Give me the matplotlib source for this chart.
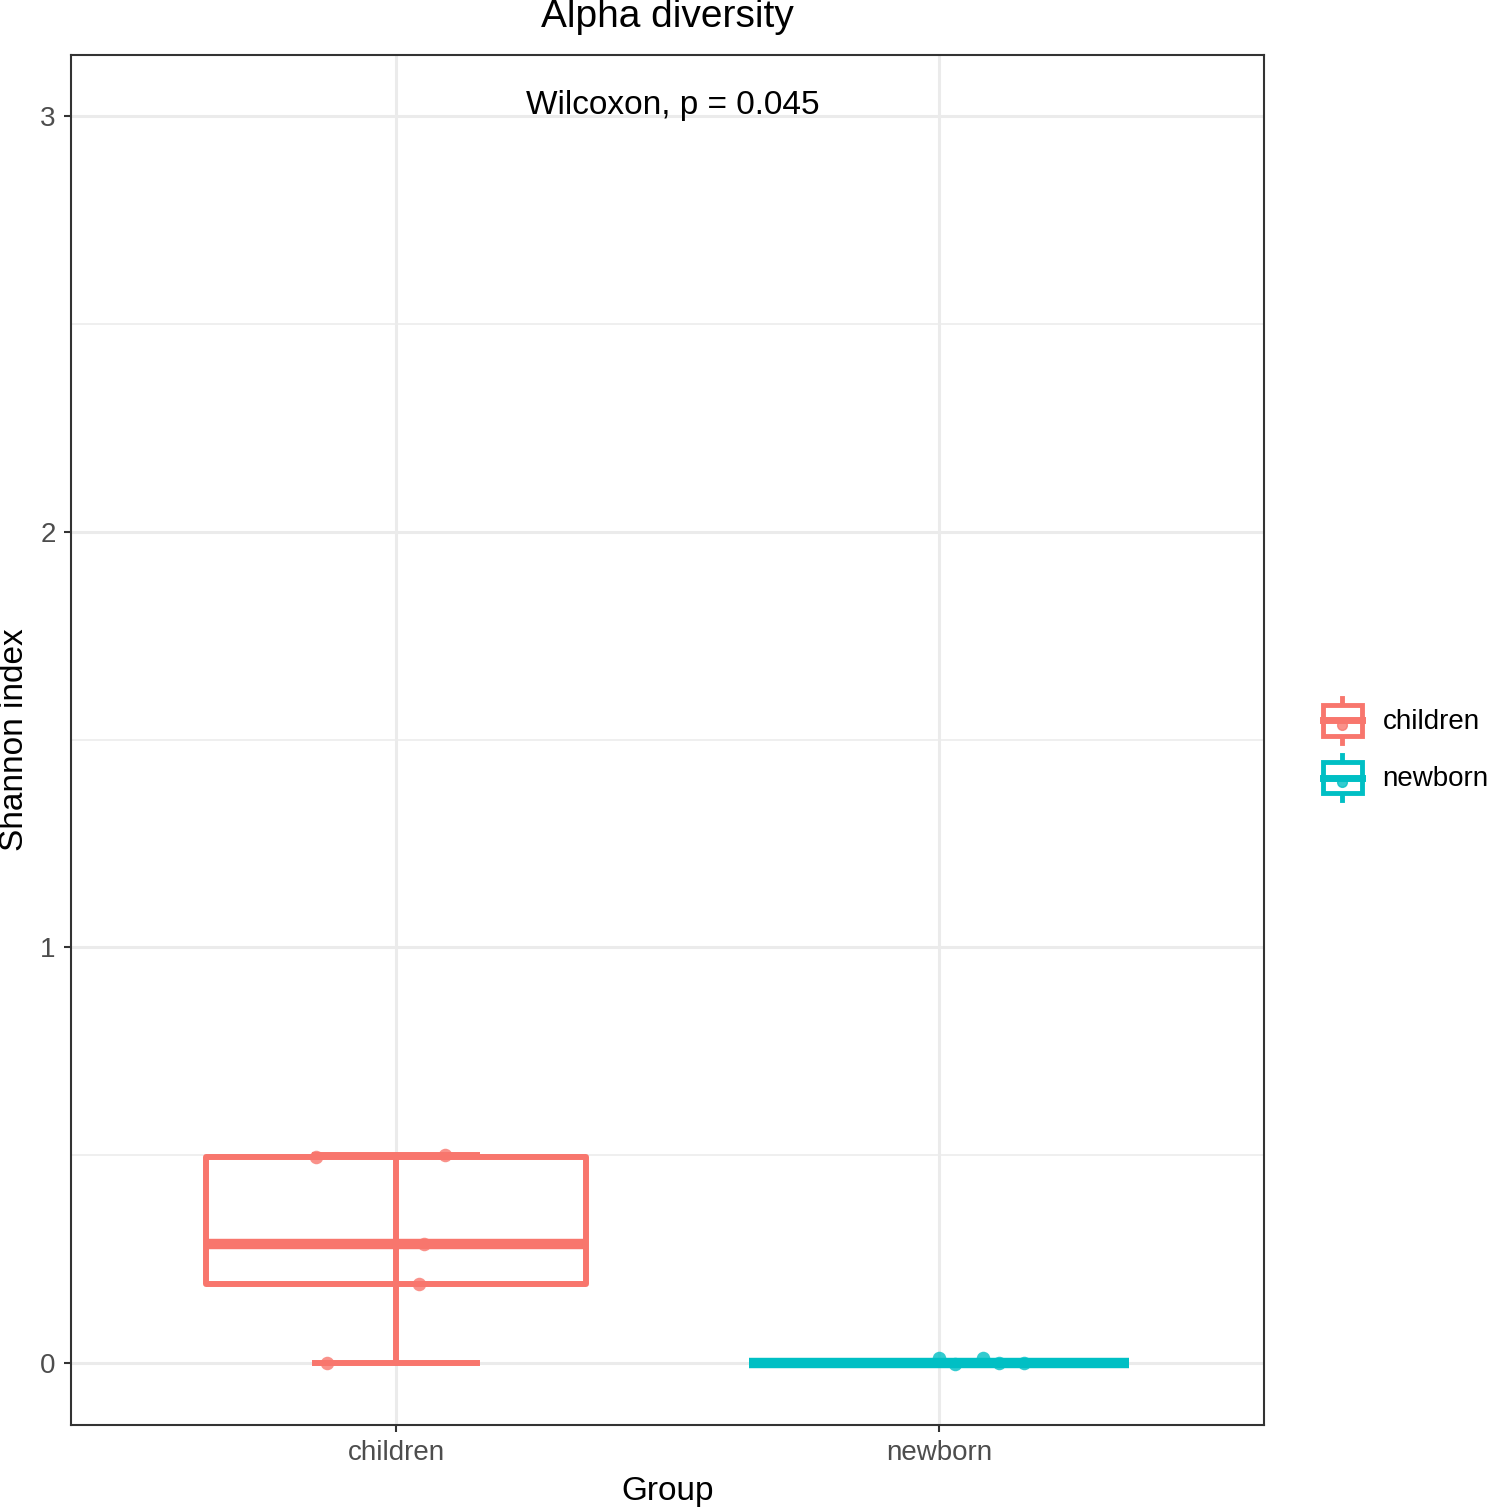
import numpy as np
import matplotlib
matplotlib.use("Agg")
import matplotlib.pyplot as plt
from matplotlib.legend_handler import HandlerBase
from matplotlib.patches import Rectangle, Patch
from matplotlib.lines import Line2D

plt.rcParams['font.family'] = ['Liberation Sans', 'DejaVu Sans']

# data
groups = ['children', 'newborn']
colors = ['#F8766D', '#00BFC4']
shannon = {
    'children': [0.4956, 0.50, 0.286, 0.19, 0.0],
    'newborn': [0.0, 0.0, 0.0, 0.0, 0.0],
}
# jitter of the points (x offset, y offset), as seen on the plot
jitter_x = {
    'children': [-0.147, 0.090, 0.052, 0.042, -0.127],
    'newborn': [0.0, 0.029, 0.081, 0.110, 0.157],
}
jitter_y = {
    'children': [0.0, 0.0, 0.0, 0.0, 0.0],
    'newborn': [0.012, -0.002, 0.013, -0.001, 0.0],
}
p_label = 'Wilcoxon, p = 0.045'

W, H = 1489, 1507
fig = plt.figure(figsize=(W / 100, H / 100), dpi=100)
ax = fig.add_axes([71 / W, 1 - 1425 / H, (1264 - 71) / W, (1425 - 55) / H])

box_w = 0.7
cap_w = 0.3
for i, (g, c) in enumerate(zip(groups, colors)):
    x = i + 1
    v = np.array(shannon[g])
    q1, med, q3 = np.percentile(v, [25, 50, 75])
    iqr = q3 - q1
    lo = v[v >= q1 - 1.5 * iqr].min()
    hi = v[v <= q3 + 1.5 * iqr].max()
    # errorbar whiskers
    ax.plot([x, x], [lo, hi], color=c, lw=4.3, zorder=3, solid_capstyle='butt')
    ax.plot([x - cap_w / 2, x + cap_w / 2], [lo, lo], color=c, lw=4.3, zorder=3)
    ax.plot([x - cap_w / 2, x + cap_w / 2], [hi, hi], color=c, lw=4.3, zorder=3)
    # box
    ax.add_patch(Rectangle((x - box_w / 2, q1), box_w, q3 - q1, fill=False,
                           edgecolor=c, lw=4.3, zorder=4, joinstyle='round'))
    ax.plot([x - box_w / 2, x + box_w / 2], [med, med], color=c, lw=7.5,
            zorder=4, solid_capstyle='butt')
    # points
    px = x + np.array(jitter_x[g])
    py = v + np.array(jitter_y[g])
    ax.scatter(px, py, s=95, color=c, alpha=0.8, lw=0, zorder=5)

ax.text(1.51, 3.026, p_label, ha='center', va='center', fontsize=24, color='black')

ax.set_xlim(0.4015, 2.5985)
ax.set_ylim(-0.149, 3.147)
ax.set_xticks([1, 2])
ax.set_xticklabels(groups)
ax.set_yticks([0, 1, 2, 3])
ax.set_yticks([0.5, 1.5, 2.5], minor=True)
ax.set_xticks([], minor=True)
ax.grid(True, which='major', color='#EBEBEB', lw=2.2, zorder=0)
ax.grid(True, which='minor', axis='y', color='#EBEBEB', lw=1.1, zorder=0)
ax.set_axisbelow(True)
ax.tick_params(which='major', length=5, width=1.5, color='#333333',
               labelsize=20, labelcolor='#4D4D4D', pad=6)
ax.tick_params(which='minor', length=0)
for s in ax.spines.values():
    s.set_color('#333333')
    s.set_linewidth(1.5)

ax.set_xlabel('Group', fontsize=24, labelpad=7)
ax.set_ylabel('Shannon index', fontsize=24, va='center')
ax.yaxis.set_label_coords(-0.0475, 0.5)
fig.text(667 / W, 1 - 17 / H, 'Alpha diversity', ha='center', va='center', fontsize=28)


class BoxKey(HandlerBase):
    def create_artists(self, legend, orig_handle, xdescent, ydescent,
                       width, height, fontsize, trans):
        c = orig_handle.get_facecolor()
        x0, y0 = -xdescent, -ydescent
        cx, cy = x0 + width / 2, y0 + height / 2
        bh = height * 0.68
        arts = [
            Line2D([cx, cx], [y0, y0 + height], color=c, lw=3.5),
            Rectangle((x0, cy - bh / 2), width, bh, facecolor='white',
                      edgecolor=c, lw=3.5),
            Line2D([x0, x0 + width], [cy, cy], color=c, lw=5),
            Line2D([cx], [cy - bh * 0.15], marker='o', markersize=7,
                   color=c, alpha=0.8, lw=0),
        ]
        for a in arts:
            a.set_transform(trans)
        return arts


handles = [Patch(facecolor=c) for c in colors]
fig.legend(handles, groups, loc='center left',
           bbox_to_anchor=(1309 / W, 1 - 749 / H), frameon=False,
           fontsize=20, handler_map={Patch: BoxKey()},
           handlelength=1.4, handleheight=2.1, handletextpad=0.75,
           labelspacing=0.45, borderpad=0)

fig.savefig('out.png', dpi=100)
